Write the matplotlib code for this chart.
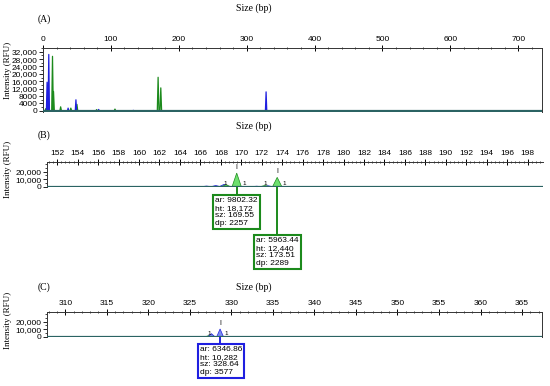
import matplotlib.pyplot as plt
from matplotlib.ticker import MultipleLocator, FixedLocator, FuncFormatter

# panel A - full electropherogram, peak size (bp) and height (RFU)
a_blue_pos = [6, 8.5, 37, 48.5, 82, 133, 328.6]
a_blue_ht = [15500, 30500, 1500, 6000, 800, 300, 10282]
a_green_pos = [4, 7, 14, 15.5, 26, 41, 50, 79, 106, 169.55, 173.51]
a_green_ht = [1200, 12000, 29500, 10500, 2200, 1500, 3500, 700, 1000, 18172, 12440]

# panel B - zoom 151-199 bp
b_green_pos = [168.5, 169.55, 172.3, 173.51]
b_green_ht = [2500, 18172, 1500, 12440]
b_blue_pos = [166.6, 167.5, 168.3, 171.5, 172.6]
b_blue_ht = [800, 1500, 3000, 600, 1200]

# panel C - zoom 308-367 bp
c_blue_pos = [327.6, 328.64]
c_blue_ht = [4000, 10282]
c_green_pos = [327.3]
c_green_ht = [1500]

# called peaks: (panel, colour, ar, ht, sz, dp, box left px, box top px)
calls = [
    ("B", "green", "9802.32", "18,172", 169.55, 2257, 213, 194),
    ("B", "green", "5963.44", "12,440", 173.51, 2289, 254, 234),
    ("C", "blue", "6346.86", "10,282", 328.64, 3577, 198, 343),
]

W, H = 550, 386
BLUE = "#1f1fe0"
GREEN = "#1c8a1c"
GREEN_FILL = "#6ee06e"
BLUE_FILL = "#7a8cf0"
BASE = "#2b6363"
SANS = "Liberation Sans"
SERIF = "Liberation Serif"

fig = plt.figure(figsize=(5.5, 3.86), dpi=100)


def px_axes(l, t, r, b):
    return fig.add_axes([l / W, 1 - b / H, (r - l) / W, (b - t) / H])


def trace(pos, ht, w):
    xs, ys = [], []
    for p, h in sorted(zip(pos, ht)):
        xs += [p - w, p, p + w]
        ys += [0, h, 0]
    return xs, ys


def fmt(v, _):
    if v >= 10000:
        return f"{v:,.0f}"
    return f"{v:.0f}"


def style(ax, major, minor, yticks, ymin, right=True):
    ax.xaxis.tick_top()
    ax.xaxis.set_major_locator(MultipleLocator(major))
    ax.xaxis.set_minor_locator(MultipleLocator(minor))
    ax.yaxis.set_major_locator(FixedLocator(yticks))
    ax.yaxis.set_minor_locator(MultipleLocator(ymin))
    ax.yaxis.set_major_formatter(FuncFormatter(fmt))
    ax.tick_params(axis="x", which="major", direction="inout", length=4,
                   width=0.7, labelsize=6, pad=1.5)
    ax.tick_params(axis="x", which="minor", direction="inout", length=2, width=0.5)
    ax.tick_params(axis="y", which="major", direction="out", length=3,
                   width=0.6, labelsize=6, pad=1)
    ax.tick_params(axis="y", which="minor", direction="out", length=1.5, width=0.5)
    for lab in ax.get_xticklabels() + ax.get_yticklabels():
        lab.set_fontfamily(SANS)
    for s in ax.spines.values():
        s.set_linewidth(0.7)
        s.set_color("#333333")
    ax.spines["bottom"].set_visible(False)
    ax.spines["right"].set_visible(right)
    ax.axhline(0, color=BASE, lw=1.6, zorder=5)


# ---- panel A
axA = px_axes(43, 48, 542, 112)
x, y = trace(a_green_pos, a_green_ht, 1.2)
axA.plot(x, y, color=GREEN, lw=0.9)
x, y = trace(a_blue_pos, a_blue_ht, 1.0)
axA.plot(x, y, color=BLUE, lw=0.9)
axA.set_xlim(0, 735)
axA.set_ylim(-600, 34000)
style(axA, 100, 20, range(0, 32001, 4000), 2000)

# ---- panel B
axB = px_axes(47, 162, 543, 187)
for pos, ht, ec, fc in [(b_blue_pos, b_blue_ht, BLUE, BLUE_FILL),
                        (b_green_pos, b_green_ht, GREEN, GREEN_FILL)]:
    for p, h in zip(pos, ht):
        axB.fill([p - 0.45, p, p + 0.45], [0, h, 0], color=fc, ec=ec, lw=0.5)
axB.set_xlim(151, 199.5)
axB.set_ylim(-500, 33000)
style(axB, 2, 0.4, [0, 10000, 20000], 5000, right=False)

# ---- panel C
axC = px_axes(47, 312, 542, 337)
for pos, ht, ec, fc in [(c_green_pos, c_green_ht, GREEN, GREEN_FILL),
                        (c_blue_pos, c_blue_ht, BLUE, BLUE_FILL)]:
    for p, h in zip(pos, ht):
        axC.fill([p - 0.4, p, p + 0.4], [0, h, 0], color=fc, ec=ec, lw=0.5)
axC.set_xlim(307.8, 367.4)
axC.set_ylim(-500, 33000)
style(axC, 5, 1, [0, 10000, 20000], 5000)

# small allele markers
for ax, p in [(axB, 168.4), (axB, 172.3)]:
    ax.text(p, 500, "1", fontsize=4.5, family=SANS, ha="center", va="bottom")
axC.text(327.3, 500, "1", fontsize=4.5, family=SANS, ha="center", va="bottom")

# callout boxes with vertical leader lines
axes = {"B": axB, "C": axC}
for panel, col, ar, ht, sz, dp, bx, by in calls:
    ax = axes[panel]
    ec = GREEN if col == "green" else BLUE
    h = float(ht.replace(",", ""))
    ax.text(sz, h + 2500, "I", fontsize=5, family=SANS, ha="center", va="bottom")
    ax.text(sz + 0.55, 200, "1", fontsize=4.5, family=SANS, ha="left", va="bottom")
    y_box = ax.transData.inverted().transform((0, H - by))[1]
    ax.plot([sz, sz], [0, y_box], color=ec, lw=1.4, clip_on=False, zorder=4)
    label = f"ar: {ar}\nht: {ht}\nsz: {sz:.2f}\ndp: {dp}"
    fig.text((bx + 2) / W, 1 - (by + 3) / H, label, ha="left", va="top",
             fontsize=6, family=SANS, linespacing=1.12,
             bbox=dict(boxstyle="square,pad=0.25", fc="white", ec=ec, lw=1.5))

# titles and labels
for tag, ty, ly, yc in [("(A)", 19, 8, 70), ("(B)", 135, 126, 169), ("(C)", 287, 287, 320)]:
    fig.text(38 / W, 1 - ty / H, tag, fontsize=7, family=SERIF, va="center")
    fig.text(254 / W, 1 - ly / H, "Size (bp)", fontsize=7, family=SERIF,
             ha="center", va="center")
    fig.text(8 / W, 1 - yc / H, "Intensity (RFU)", fontsize=6.5, family=SERIF,
             rotation=90, ha="center", va="center")

fig.savefig("out.png", dpi=100)
